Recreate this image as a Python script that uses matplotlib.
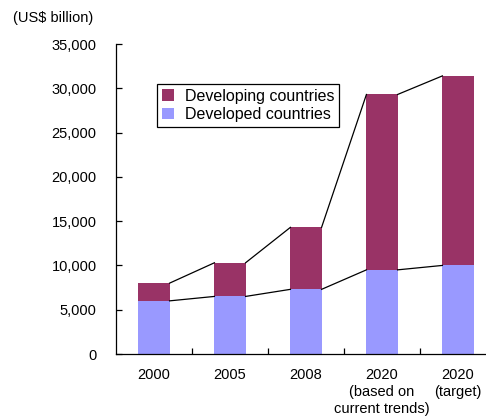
import numpy as np
import matplotlib
matplotlib.use('Agg')
import matplotlib.pyplot as plt

# 数据 (US$ billion)
categories = ['2000', '2005', '2008', '2020\n(based on\ncurrent trends)', '2020\n(target)']
developed = [6000, 6500, 7300, 9500, 10000]
developing = [2000, 3800, 7000, 19800, 21400]

plt.rcParams['font.family'] = ['Liberation Sans', 'DejaVu Sans']

fig = plt.figure(figsize=(4.86, 4.17), dpi=100)
# 坐标轴超出右边界, 与原图一致
ax = fig.add_axes([116/486, 63/417, 380/486, 310/417])

x = np.arange(len(categories))
w = 0.41
totals = np.array(developed) + np.array(developing)

ax.bar(x, developed, width=w, color='#9999ff', label='Developed countries', zorder=2)
ax.bar(x, developing, width=w, bottom=developed, color='#993366', label='Developing countries', zorder=2)

# 连接柱顶的折线
for vals in (totals, np.array(developed)):
    for i in range(len(x) - 1):
        ax.plot([x[i] + w/2, x[i+1] - w/2], [vals[i], vals[i+1]], c='black', lw=0.9, zorder=3)

ax.set_xlim(-0.5, len(categories) - 0.5)
ax.set_ylim(0, 35000)
ax.set_yticks(range(0, 35001, 5000))
ax.set_yticklabels(['{:,}'.format(v) for v in range(0, 35001, 5000)])
ax.set_xticks(x)
ax.set_xticklabels(categories, linespacing=1.3)
ax.set_xticks(np.arange(0.5, len(categories) - 0.5, 1), minor=True)
ax.tick_params(axis='x', which='major', length=0, pad=10, labelsize=10.5)
ax.tick_params(axis='x', which='minor', direction='in', length=4, width=0.9)
ax.tick_params(axis='y', direction='in', length=4, width=0.9, pad=14, labelsize=10.5)
for s in ('top', 'right'):
    ax.spines[s].set_visible(False)
for s in ('left', 'bottom'):
    ax.spines[s].set_linewidth(0.9)

handles, labels = ax.get_legend_handles_labels()
leg = ax.legend(handles[::-1], labels[::-1], loc='upper left',
                bbox_to_anchor=(157/486, 1 - 84/417), bbox_transform=fig.transFigure,
                borderaxespad=0, fancybox=False, edgecolor='black', framealpha=1,
                fontsize=11.5, handlelength=0.75, handleheight=0.75, handletextpad=0.7,
                labelspacing=0.2, borderpad=0.3)
leg.get_frame().set_linewidth(0.9)

fig.text(13/486, 1 - 18/417, '(US$ billion)', fontsize=10.5, va='center', ha='left')

fig.savefig('out.png', dpi=100)
